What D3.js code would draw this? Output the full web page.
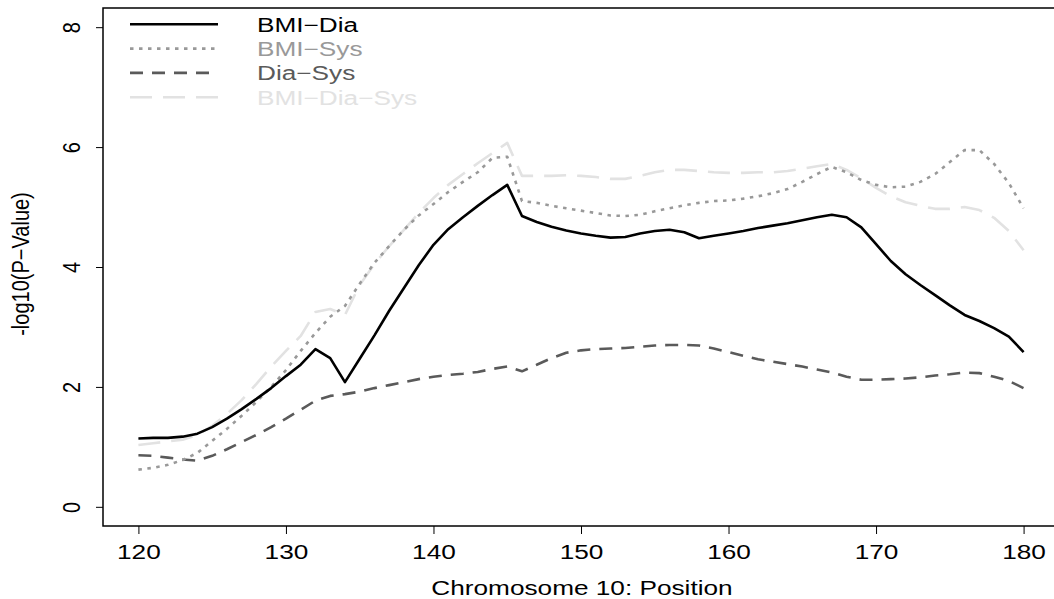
<!DOCTYPE html>
<html>
<head>
<meta charset="utf-8">
<script src="https://cdn.jsdelivr.net/npm/d3@7"></script>
<style>
  body { margin: 0; background: #fff; overflow: hidden; }
  text { font-family: "Liberation Sans", Arial, sans-serif; }
</style>
</head>
<body>
<div id="chart"></div>
<script>
// positions along chromosome 10
var positions = [120, 121, 122, 123, 124, 125, 126, 127, 128, 129,
  130, 131, 132, 133, 134, 135, 136, 137, 138, 139,
  140, 141, 142, 143, 144, 145, 146, 147, 148, 149,
  150, 151, 152, 153, 154, 155, 156, 157, 158, 159,
  160, 161, 162, 163, 164, 165, 166, 167, 168, 169,
  170, 171, 172, 173, 174, 175, 176, 177, 178, 179, 180];

// -log10(p) for each trait combination
var bmiDia = [1.14, 1.15, 1.15, 1.17, 1.22, 1.33, 1.47, 1.63, 1.80, 1.98,
  2.18, 2.37, 2.63, 2.48, 2.08, 2.47, 2.86, 3.27, 3.65, 4.03,
  4.37, 4.63, 4.83, 5.02, 5.20, 5.37, 4.85, 4.75, 4.67, 4.61,
  4.56, 4.52, 4.49, 4.50, 4.56, 4.60, 4.62, 4.58, 4.48, 4.52,
  4.56, 4.60, 4.65, 4.69, 4.73, 4.78, 4.83, 4.87, 4.83, 4.66,
  4.38, 4.10, 3.88, 3.70, 3.53, 3.36, 3.20, 3.10, 2.98, 2.84, 2.58];

var bmiSys = [0.62, 0.65, 0.70, 0.78, 0.90, 1.10, 1.30, 1.52, 1.75, 2.00,
  2.28, 2.60, 2.90, 3.17, 3.35, 3.72, 4.07, 4.35, 4.62, 4.86,
  5.05, 5.25, 5.42, 5.58, 5.82, 5.84, 5.10, 5.07, 5.02, 4.98,
  4.94, 4.90, 4.86, 4.85, 4.87, 4.93, 4.98, 5.03, 5.07, 5.10,
  5.11, 5.14, 5.18, 5.23, 5.30, 5.42, 5.55, 5.67, 5.58, 5.45,
  5.37, 5.33, 5.34, 5.42, 5.55, 5.75, 5.95, 5.95, 5.72, 5.40, 4.98];

var diaSys = [0.86, 0.85, 0.82, 0.79, 0.77, 0.85, 0.96, 1.08, 1.20, 1.33,
  1.47, 1.62, 1.77, 1.85, 1.88, 1.92, 1.98, 2.03, 2.08, 2.13,
  2.17, 2.20, 2.22, 2.25, 2.30, 2.34, 2.26, 2.37, 2.48, 2.57,
  2.61, 2.63, 2.64, 2.65, 2.67, 2.69, 2.70, 2.70, 2.69, 2.64,
  2.58, 2.52, 2.46, 2.42, 2.38, 2.34, 2.29, 2.24, 2.17, 2.12,
  2.12, 2.13, 2.14, 2.16, 2.19, 2.21, 2.24, 2.23, 2.17, 2.10, 1.98];

var bmiDiaSys = [1.03, 1.06, 1.09, 1.12, 1.20, 1.35, 1.55, 1.78, 2.05, 2.34,
  2.60, 2.85, 3.25, 3.30, 3.20, 3.70, 4.05, 4.35, 4.62, 4.90,
  5.15, 5.37, 5.55, 5.73, 5.90, 6.07, 5.52, 5.52, 5.52, 5.53,
  5.52, 5.50, 5.47, 5.47, 5.52, 5.58, 5.62, 5.62, 5.60, 5.58,
  5.57, 5.57, 5.58, 5.58, 5.60, 5.64, 5.68, 5.72, 5.62, 5.48,
  5.32, 5.18, 5.08, 5.02, 4.97, 4.97, 5.00, 4.95, 4.82, 4.60, 4.28];

var seriesNames = ["BMI\u2212Dia", "BMI\u2212Sys", "Dia\u2212Sys", "BMI\u2212Dia\u2212Sys"];
var xTicks = [120, 130, 140, 150, 160, 170, 180];
var yTicks = [0, 2, 4, 6, 8];

// line styles, in the same order as seriesNames
var styles = [
  { color: "#000000", dash: null },
  { color: "#999999", dash: "3.5,5.5" },
  { color: "#5a5a5a", dash: "13,9" },
  { color: "#e2e2e2", dash: "22,11" }
];

var series = [bmiDia, bmiSys, diaSys, bmiDiaSys].map(function(vals, i) {
  return {
    name: seriesNames[i],
    style: styles[i],
    values: vals.map(function(v, j) { return { x: positions[j], y: v }; })
  };
});

var svgWidth = 1054;
var svgHeight = 599;

// the picture was cropped on the right, so the box runs past the edge
var margin = { top: 8, right: -5, bottom: 73, left: 103 };
var width = svgWidth - margin.left - margin.right;
var height = svgHeight - margin.top - margin.bottom;

// text in the original is stretched sideways
var fontSize = 20;
var stretch = 1.31;

var svg = d3.select("#chart")
  .append("svg")
  .attr("width", svgWidth)
  .attr("height", svgHeight);

var chartGroup = svg.append("g")
  .attr("transform", `translate(${margin.left}, ${margin.top})`);

var xExt = d3.extent(positions);
var xPad = (xExt[1] - xExt[0]) * 0.04;
var xScale = d3.scaleLinear()
  .domain([xExt[0] - xPad, xExt[1] + xPad])
  .range([0, width]);

var yScale = d3.scaleLinear()
  .domain([-0.32, 8.32])
  .range([height, 0]);

// x axis
var bottomAxis = d3.axisBottom(xScale)
  .tickValues(xTicks)
  .tickSize(8)
  .tickFormat(d3.format("d"));

var xAxis = chartGroup.append("g")
  .attr("transform", `translate(0, ${height})`)
  .call(bottomAxis);
xAxis.select(".domain").remove();
xAxis.selectAll("line").attr("stroke", "#000").attr("stroke-width", 1);
xAxis.selectAll("text")
  .attr("y", null)
  .attr("dy", null)
  .attr("text-anchor", "middle")
  .attr("transform", `translate(0, 33) scale(${stretch}, 1)`)
  .attr("font-size", fontSize + "px")
  .attr("fill", "#000")
  .attr("font-family", "Liberation Sans, Arial, sans-serif");

// y axis, labels turned like R does
var leftAxis = d3.axisLeft(yScale)
  .tickValues(yTicks)
  .tickSize(7)
  .tickFormat(d3.format("d"));

var yAxis = chartGroup.append("g")
  .call(leftAxis);
yAxis.select(".domain").remove();
yAxis.selectAll("line").attr("stroke", "#000").attr("stroke-width", 1);
yAxis.selectAll("text")
  .attr("x", null)
  .attr("dy", null)
  .attr("text-anchor", "middle")
  .attr("transform", `translate(-23, 0) scale(1.22, 1) rotate(-90)`)
  .attr("font-size", fontSize + "px")
  .attr("fill", "#000")
  .attr("font-family", "Liberation Sans, Arial, sans-serif");

// box round the plot
chartGroup.append("rect")
  .attr("width", width)
  .attr("height", height)
  .attr("fill", "none")
  .attr("stroke", "#000")
  .attr("stroke-width", 1.5);

// the four curves, lightest drawn first
var line = d3.line()
  .x(d => xScale(d.x))
  .y(d => yScale(d.y));

chartGroup.selectAll(".curve")
  .data(series.slice().reverse())
  .enter()
  .append("path")
  .attr("class", "curve")
  .attr("d", d => line(d.values))
  .attr("fill", "none")
  .attr("stroke", d => d.style.color)
  .attr("stroke-width", 2.6)
  .attr("stroke-dasharray", d => d.style.dash)
  .attr("stroke-linejoin", "round");

// legend in the top left corner, no frame
var legend = chartGroup.append("g")
  .attr("transform", "translate(27, 16.3)");

var legendRows = legend.selectAll("g")
  .data(series)
  .enter()
  .append("g")
  .attr("transform", (d, i) => `translate(0, ${i * 24.3})`);

legendRows.append("line")
  .attr("x1", 0)
  .attr("x2", 88)
  .attr("stroke", d => d.style.color)
  .attr("stroke-width", 2.6)
  .attr("stroke-dasharray", d => d.style.dash);

legendRows.append("text")
  .attr("transform", `translate(127, 7.5) scale(${stretch}, 1)`)
  .attr("font-size", fontSize + "px")
  .attr("fill", d => d.style.color)
  .text(d => d.name);

// axis titles
svg.append("text")
  .attr("transform", `translate(582, 595) scale(${stretch}, 1)`)
  .attr("text-anchor", "middle")
  .attr("font-size", fontSize + "px")
  .text("Chromosome 10: Position");

svg.append("text")
  .attr("transform", `translate(29, 264) scale(1.15, 1) rotate(-90)`)
  .attr("text-anchor", "middle")
  .attr("font-size", fontSize + "px")
  .text("-log10(P\u2212Value)");
</script>
</body>
</html>
